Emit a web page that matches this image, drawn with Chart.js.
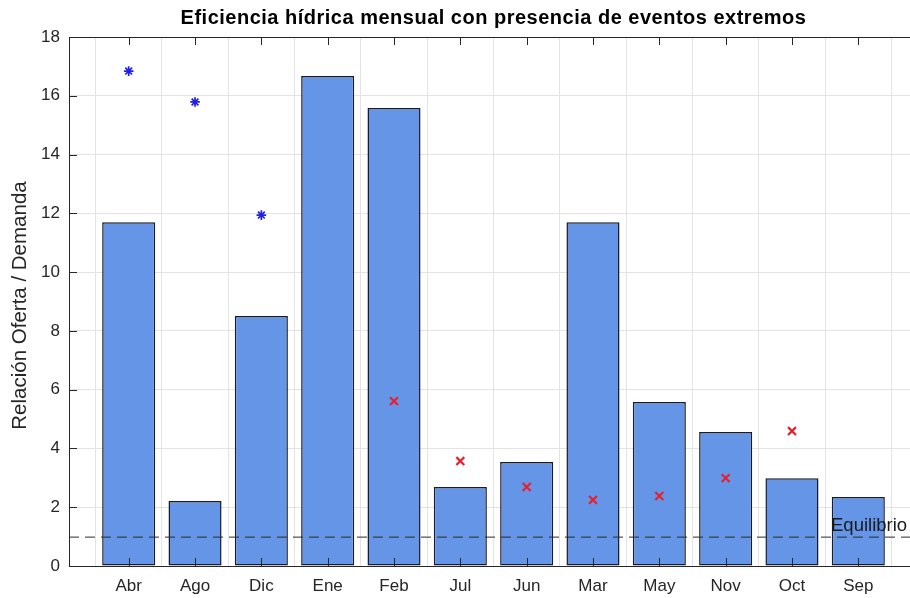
<!DOCTYPE html>
<html>
<head>
<meta charset="utf-8">
<script src="https://cdn.jsdelivr.net/npm/chart.js@4"></script>
<style>
  html, body { margin: 0; padding: 0; background: #fff; overflow: hidden; width: 910px; height: 598px; }
  canvas { display: block; }
</style>
</head>
<body>
<canvas id="myChart" width="930" height="598"></canvas>
<script>
const categories = ["Abr", "Ago", "Dic", "Ene", "Feb", "Jul", "Jun", "Mar", "May", "Nov", "Oct", "Sep"];
const ratios = [11.70, 2.21, 8.51, 16.67, 15.58, 2.69, 3.54, 11.70, 5.58, 4.56, 2.99, 2.35];
// eventos extremos: estrellas azules (altos) y cruces rojas (bajos)
const highEvents = [16.84, 15.79, 11.94, null, null, null, null, null, null, null, null, null];
const lowEvents = [null, null, null, null, 5.61, 3.57, 2.69, 2.25, 2.38, 2.99, 4.59, null];
const yTicks = [0, 2, 4, 6, 8, 10, 12, 14, 16, 18];
const equilibrio = 1;

const FONT = "'Liberation Sans', Arial, Helvetica, sans-serif";
const toPoints = (arr) => arr.map((v, i) => ({ x: i + 1, y: v })).filter(p => p.y !== null);

// Caja, marcas de ejes, línea de equilibrio y textos
const matlabAxes = {
  id: "matlabAxes",
  afterDatasetsDraw(chart) {
    const { ctx, chartArea: a, scales } = chart;
    ctx.save();
    // línea de equilibrio
    const yEq = scales.y.getPixelForValue(equilibrio);
    ctx.strokeStyle = "#2a2a2a";
    ctx.lineWidth = 1;
    ctx.setLineDash([10, 6]);
    ctx.beginPath();
    ctx.moveTo(a.left, yEq + 0.5);
    ctx.lineTo(a.right, yEq + 0.5);
    ctx.stroke();
    ctx.setLineDash([]);
    ctx.fillStyle = "#1a1a1a";
    ctx.font = "18.5px " + FONT;
    ctx.textAlign = "left";
    ctx.textBaseline = "alphabetic";
    ctx.fillText("Equilibrio", a.right - 87, yEq - 6);

    // caja
    ctx.strokeStyle = "#262626";
    ctx.lineWidth = 1;
    ctx.strokeRect(a.left + 0.5, a.top + 0.5, a.right - a.left, a.bottom - a.top);

    // marcas
    ctx.beginPath();
    for (let i = 1; i <= categories.length; i++) {
      const x = Math.round(scales.x.getPixelForValue(i)) + 0.5;
      ctx.moveTo(x, a.bottom); ctx.lineTo(x, a.bottom - 8);
      ctx.moveTo(x, a.top); ctx.lineTo(x, a.top + 8);
    }
    yTicks.forEach(t => {
      const y = Math.round(scales.y.getPixelForValue(t)) + 0.5;
      ctx.moveTo(a.left, y); ctx.lineTo(a.left + 8, y);
      ctx.moveTo(a.right, y); ctx.lineTo(a.right - 8, y);
    });
    ctx.stroke();

    // título
    ctx.fillStyle = "#000";
    ctx.font = "bold 20px " + FONT;
    ctx.letterSpacing = "0.5px";
    ctx.textAlign = "center";
    ctx.textBaseline = "middle";
    ctx.fillText("Eficiencia hídrica mensual con presencia de eventos extremos", (a.left + a.right) / 2, 18);

    // etiqueta eje y
    ctx.letterSpacing = "0px";
    ctx.fillStyle = "#262626";
    ctx.font = "20.5px " + FONT;
    ctx.translate(20, (a.top + a.bottom) / 2 + 4);
    ctx.rotate(-Math.PI / 2);
    ctx.fillText("Relación Oferta / Demanda", 0, 0);
    ctx.restore();
  }
};

const ctx = document.getElementById("myChart").getContext("2d");
new Chart(ctx, {
  type: "bar",
  data: {
    datasets: [
      {
        type: "scatter",
        data: toPoints(highEvents),
        pointStyle: "star",
        radius: 4.8,
        borderWidth: 1.7,
        borderColor: "#2020e8",
        backgroundColor: "#2020e8",
        order: 0
      },
      {
        type: "scatter",
        data: toPoints(lowEvents),
        pointStyle: "crossRot",
        radius: 5.6,
        borderWidth: 2.2,
        borderColor: "#e8202e",
        backgroundColor: "#e8202e",
        order: 0
      },
      {
        type: "bar",
        data: toPoints(ratios),
        backgroundColor: "#6495e6",
        borderColor: "#1a1a2a",
        borderWidth: 1.5,
        borderSkipped: false,
        barPercentage: 0.8,
        categoryPercentage: 1,
        order: 1
      }
    ]
  },
  options: {
    responsive: false,
    animation: false,
    layout: { padding: { top: 37, right: 12, left: 0, bottom: 0 } },
    plugins: { legend: { display: false }, tooltip: { enabled: false }, title: { display: false } },
    scales: {
      x: {
        type: "linear",
        min: 0.1,
        max: 12.9,
        offset: false,
        afterBuildTicks: (s) => { s.ticks = categories.map((c, i) => ({ value: i + 1 })); },
        afterFit: (s) => { s.height = 32; },
        grid: { color: "#e3e3e3", drawTicks: false },
        border: { display: false },
        ticks: {
          padding: 10,
          color: "#262626",
          font: { family: FONT, size: 17 },
          callback: (v) => categories[v - 1] || ""
        }
      },
      y: {
        min: 0,
        max: 18,
        afterBuildTicks: (s) => { s.ticks = yTicks.map(v => ({ value: v })); },
        afterFit: (s) => { s.width = 69; },
        grid: { color: "#e3e3e3", drawTicks: false },
        border: { display: false },
        ticks: {
          padding: 9,
          color: "#262626",
          font: { family: FONT, size: 17 }
        }
      }
    }
  },
  plugins: [matlabAxes]
});
</script>
</body>
</html>
